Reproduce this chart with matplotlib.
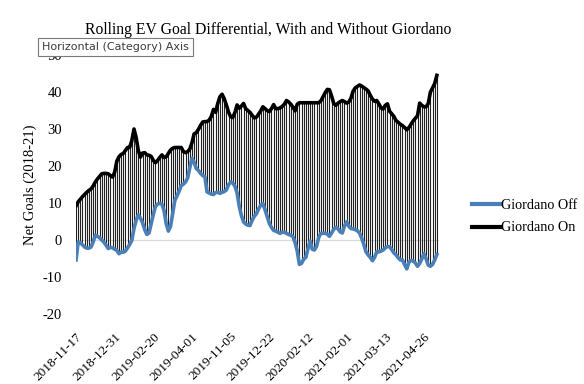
import matplotlib
matplotlib.use('Agg')
import matplotlib.pyplot as plt
import numpy as np

# rolling net goals, giordano on ice / off ice (one value per game date)
giordano_on = [9.2, 10.3, 11.0, 11.7, 12.3, 12.9, 13.4, 13.8, 14.6, 15.7,
               16.5, 17.2, 17.9, 18.0, 18.0, 17.9, 17.4, 17.0, 18.3, 21.3,
               22.5, 23.1, 23.4, 24.2, 25.0, 25.0, 26.9, 30.0, 27.7, 24.2,
               22.4, 23.5, 23.6, 23.0, 22.9, 22.6, 21.5, 20.9, 21.5, 22.3,
               23.0, 22.3, 22.5, 23.4, 24.3, 24.8, 25.0, 25.0, 25.0, 25.0,
               23.9, 23.6, 23.9, 24.6, 26.3, 28.7, 29.0, 29.9, 31.0, 31.9,
               32.0, 32.0, 32.4, 33.4, 35.3, 34.5, 36.9, 38.7, 39.4, 38.2,
               36.5, 34.6, 33.3, 33.1, 34.5, 36.5, 35.6, 36.2, 36.9, 35.5,
               35.0, 34.5, 33.7, 33.0, 33.2, 34.0, 34.9, 36.0, 35.5, 35.0,
               34.7, 35.5, 36.6, 35.5, 35.5, 35.7, 36.1, 36.7, 37.7, 37.3,
               36.7, 35.9, 34.9, 36.7, 37.1, 37.1, 37.1, 37.1, 37.1, 37.1,
               37.1, 37.1, 37.1, 37.1, 37.6, 38.7, 39.8, 40.7, 40.6, 38.9,
               36.9, 36.4, 37.0, 37.4, 37.7, 37.4, 37.0, 37.3, 38.3, 40.2,
               41.1, 41.5, 41.9, 41.6, 41.2, 40.8, 40.3, 39.1, 38.1, 37.5,
               37.7, 36.8, 35.7, 35.4, 36.4, 36.8, 34.8, 34.1, 33.4, 32.3,
               31.8, 31.3, 30.9, 30.4, 29.8, 30.4, 31.3, 32.2, 32.9, 33.6,
               37.0, 36.4, 36.0, 36.0, 36.9, 40.0, 41.1, 42.3, 44.5]

giordano_off = [-5.4, -0.6, -0.7, -1.3, -1.9, -2.2, -2.2, -1.9, -0.5, 1.3,
                1.0, 0.6, 0.0, -0.6, -1.4, -2.3, -2.0, -2.1, -2.5, -2.8,
                -3.7, -3.3, -3.3, -3.0, -2.1, -1.2, -0.1, 3.1, 5.3, 6.8,
                5.9, 4.6, 2.8, 1.5, 1.9, 4.4, 6.9, 9.1, 9.7, 9.9,
                9.7, 7.9, 4.4, 2.4, 3.7, 7.1, 10.7, 11.9, 13.2, 14.7,
                15.1, 15.7, 16.8, 19.6, 22.1, 21.0, 19.3, 18.8, 18.0, 17.4,
                17.1, 13.0, 12.7, 12.4, 12.3, 12.8, 12.9, 12.6, 12.9, 13.1,
                13.5, 14.9, 15.7, 15.4, 14.5, 12.7, 9.1, 6.6, 4.9, 4.3,
                4.0, 3.9, 5.3, 6.4, 7.1, 8.4, 9.4, 9.8, 8.2, 6.3,
                4.5, 3.4, 2.6, 2.4, 2.1, 1.8, 2.1, 2.1, 1.8, 1.5,
                1.3, 0.9, -0.7, -3.0, -6.6, -6.3, -5.2, -4.7, -2.4, -0.3,
                -2.5, -2.7, -1.7, 0.7, 1.8, 1.8, 1.8, 1.6, 1.0, 1.9,
                2.9, 3.4, 3.0, 2.2, 1.9, 3.8, 4.9, 3.7, 3.1, 3.0,
                2.8, 2.5, 1.9, 0.5, -1.2, -3.2, -4.0, -4.7, -5.6, -4.7,
                -3.2, -3.2, -3.0, -2.7, -2.1, -1.8, -1.8, -2.6, -3.5, -4.0,
                -4.8, -5.4, -5.4, -6.7, -7.8, -6.0, -5.5, -5.7, -6.2, -7.1,
                -6.3, -5.1, -3.7, -5.1, -6.8, -7.1, -6.6, -5.4, -3.9]

tick_labels = ['2018-11-17', '2018-12-31', '2019-02-20', '2019-04-01', '2019-11-05',
               '2019-12-22', '2020-02-12', '2021-02-01', '2021-03-13', '2021-04-26']
label_step = 18
y_ticks = [-20, -10, 0, 10, 20, 30, 40, 50]

serif = ['Liberation Serif', 'DejaVu Serif']

fig = plt.figure(figsize=(5.84, 3.84), dpi=100)
ax = fig.add_axes([76 / 584, 1 - 314 / 384, 363 / 584, 259 / 384])

x = np.arange(len(giordano_on))
ax.vlines(x, giordano_off, giordano_on, color='#222222', lw=0.8, zorder=2)
ax.plot(x, giordano_off, color='#4a7fb8', lw=2.6, label='Giordano Off', zorder=3,
        solid_joinstyle='round')
ax.plot(x, giordano_on, color='black', lw=2.6, label='Giordano On', zorder=4,
        solid_joinstyle='round')
ax.axhline(0, color='#d9d9d9', lw=0.9, zorder=1)

ax.set_xlim(0, len(giordano_on))
ax.set_ylim(-20, 50)
ax.set_yticks(y_ticks)
ax.set_yticklabels([str(t) for t in y_ticks], fontfamily=serif, fontsize=10.5)
ax.set_xticks(np.arange(0, len(giordano_on), label_step))
ax.set_xticklabels(tick_labels, rotation=45, ha='right', rotation_mode='anchor',
                   fontfamily=serif, fontsize=9.5)
ax.tick_params(axis='both', length=0)
ax.tick_params(axis='x', pad=12)
ax.tick_params(axis='y', pad=10)
for s in ax.spines.values():
    s.set_visible(False)

ax.set_ylabel('Net Goals (2018-21)', fontfamily=serif, fontsize=10.5, labelpad=4)

fig.text(268 / 584, 1 - 30 / 384, 'Rolling EV Goal Differential, With and Without Giordano',
         ha='center', va='center', fontfamily=serif, fontsize=11.3)

leg = ax.legend(loc='center left', bbox_to_anchor=(1.055, 0.375), frameon=False,
                prop={'family': serif, 'size': 10.2}, handlelength=2.1,
                handletextpad=0.0, labelspacing=0.65)
for h in leg.get_lines():
    h.set_linewidth(3)

# the hover tooltip from the screenshot
fig.text(42 / 584, 1 - 47 / 384, 'Horizontal (Category) Axis', ha='left', va='center',
         fontfamily='DejaVu Sans', fontsize=8, color='#3c3c3c', zorder=10,
         bbox=dict(boxstyle='square,pad=0.4', fc='white', ec='#7a7a7a', lw=0.8))

fig.savefig('out.png', dpi=100)
